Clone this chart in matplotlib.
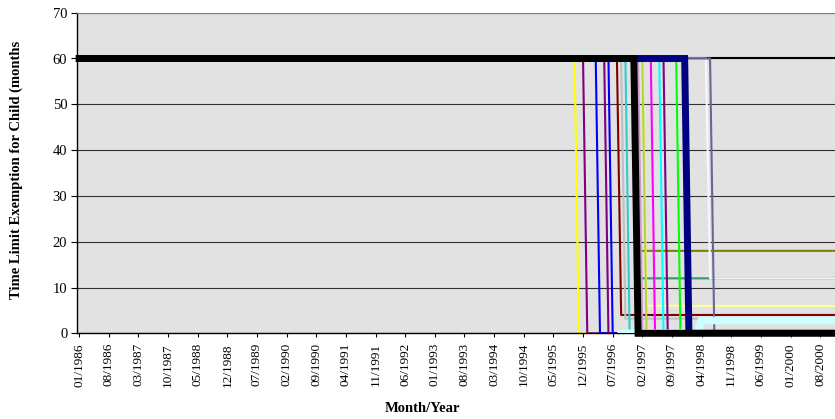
import matplotlib
matplotlib.use('Agg')
import matplotlib.pyplot as plt
import numpy as np
import pandas as pd

plt.rcParams['font.family'] = ['Liberation Serif', 'DejaVu Serif']

# monthly categories 01/1986 .. 12/2000
months = pd.date_range('1986-01-01', '2000-12-01', freq='MS').strftime('%m/%Y').tolist()
tick_every = 7

# thin series: 60 months until drop month, then the new value
thin_colors = ['#000000', '#ffff00', '#800080', '#0000ff', '#800080', '#0000ff',
               '#800000', '#c0c0c0', '#33cccc', '#008080', '#339966', '#808000',
               '#cc99cc', '#ffff99', '#b5d335', '#ff00ff', '#00ffff', '#800080',
               '#00ff00', '#f4f8f6', '#666699']
thin_drop = [None, '11/1995', '01/1996', '04/1996', '06/1996', '07/1996',
             '09/1996', '10/1996', '11/1996', '01/1997', '01/1997', '01/1997',
             '02/1997', '03/1997', '03/1997', '05/1997', '07/1997', '08/1997',
             '11/1997', '06/1998', '07/1998']
thin_after = [60, 0, 0, 0, 0, 0,
              4, 3.2, 0, 0, 12, 18,
              0, 6, 0, 0, 0, 0,
              0, 12, 0]

# thick light cyan series: starts at 0, later sits at a small value
cyan_start = '09/1996'
cyan_step = '04/1998'
cyan_levels = [0, 2.8]

# thick series on top
navy_drop = '01/1998'
black_drop = '01/1997'
before_val = 60

x = np.arange(len(months))


def step_series(drop, after):
    y = np.full(len(months), float(before_val))
    if drop is not None:
        y[months.index(drop):] = after
    return y


fig = plt.figure(figsize=(8.35, 4.19), dpi=100)
ax = fig.add_axes([77 / 835, 1 - 333.3 / 419, 1 - 77 / 835, (333.3 - 12.7) / 419])
ax.set_facecolor('#e2e2e2')

for c, d, v in zip(thin_colors, thin_drop, thin_after):
    ax.plot(x, step_series(d, v), color=c, lw=1.5, zorder=2)

cyan = np.full(len(months), np.nan)
cyan[months.index(cyan_start):months.index(cyan_step)] = cyan_levels[0]
cyan[months.index(cyan_step):] = cyan_levels[1]
ax.plot(x, cyan, color='#ccffff', lw=5.5, zorder=3, solid_joinstyle='miter')

ax.plot(x, step_series(navy_drop, 0), color='#000080', lw=5, zorder=4,
        solid_joinstyle='miter')
ax.plot(x, step_series(black_drop, 0), color='#000000', lw=5, zorder=5,
        solid_capstyle='projecting', solid_joinstyle='miter', clip_on=False)

ax.set_xlim(-0.5, 178.5)
ax.set_ylim(0, 70)
ax.set_yticks(range(0, 71, 10))
ax.set_xticks(x[::tick_every])
ax.set_xticklabels(months[::tick_every], rotation=90, fontsize=9.5)
ax.tick_params(axis='y', labelsize=10.5, length=4, width=0.8, pad=3)
ax.tick_params(axis='x', length=3, width=0.8, pad=4)

ax.set_axisbelow(True)
ax.yaxis.grid(True, color='#303030', lw=0.8)
ax.spines['top'].set_color('#808080')
ax.spines['right'].set_visible(False)
ax.spines['left'].set_linewidth(1.0)
ax.spines['bottom'].set_linewidth(1.0)

fig.text(422 / 835, 1 - 408 / 419, 'Month/Year', ha='center', va='center',
         fontsize=10.5, fontweight='bold')
fig.text(16 / 835, 1 - 170 / 419, 'Time Limit Exemption for Child (months',
         ha='center', va='center', rotation=90, fontsize=10.5, fontweight='bold')

fig.savefig('out.png', dpi=100)
